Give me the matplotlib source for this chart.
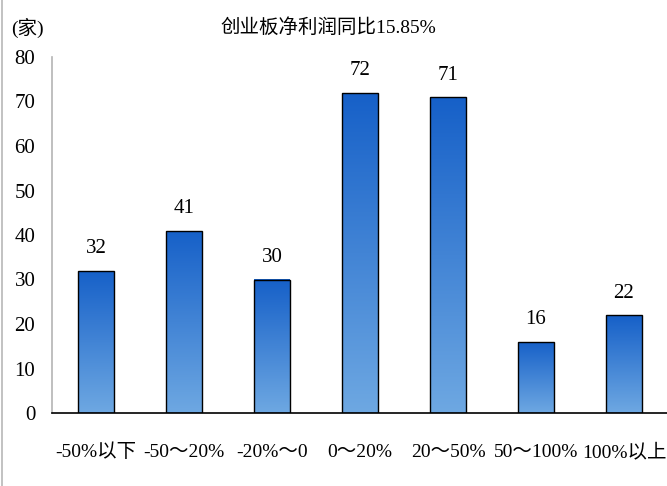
import numpy as np
from matplotlib import pyplot as plt
from matplotlib.colors import LinearSegmentedColormap
from matplotlib.lines import Line2D

# data
categories = ["-50%以下", "-50～20%", "-20%～0", "0～20%", "20～50%", "50～100%", "100%以上"]
counts = [32, 41, 30, 72, 71, 16, 22]
y_ticks = [0, 10, 20, 30, 40, 50, 60, 70, 80]
title = "创业板净利润同比15.85%"
unit = "(家)"

plt.rcParams['font.family'] = ['Liberation Serif', 'Noto Sans CJK SC', 'DejaVu Sans']

fig = plt.figure(figsize=(6.67, 4.86), dpi=100)
ax = fig.add_axes([52 / 667, (486 - 413) / 486, 616 / 667, 356 / 486])

x = np.arange(len(categories))
bars = ax.bar(x, counts, width=0.4, facecolor='none', edgecolor='black',
              linewidth=1.0, zorder=3)

# vertical gradient: dark blue on top, light blue at the bottom
cmap = LinearSegmentedColormap.from_list("blues", ["#6ea8e2", "#1660c8"])
grad = np.linspace(0, 1, 256).reshape(-1, 1)
for b in bars:
    x0 = b.get_x()
    w = b.get_width()
    h = b.get_height()
    im = ax.imshow(grad, cmap=cmap, aspect='auto', origin='lower',
                   extent=[x0, x0 + w, 0, h], zorder=2)
    im.set_clip_path(b)

for xi, v in zip(x, counts):
    ax.annotate(str(v), (xi, v), xytext=(0, 9), textcoords='offset points',
                ha='center', va='bottom', fontsize=15)

ax.set_xlim(-0.5, 6.5)
ax.set_ylim(0, 80)
ax.set_yticks(y_ticks)
ax.set_xticks(x)
ax.set_xticklabels(categories, fontsize=14)
ax.tick_params(axis='y', length=0, pad=12, labelsize=15)
ax.tick_params(axis='x', length=0, pad=22)

for s in ['top', 'right']:
    ax.spines[s].set_visible(False)
ax.spines['left'].set_color('#b4b4b4')
ax.spines['left'].set_linewidth(1.2)
ax.spines['bottom'].set_color('black')
ax.spines['bottom'].set_linewidth(1.2)

fig.text(328 / 667, 1 - 28 / 486, title, ha='center', va='center', fontsize=14)
fig.text(27 / 667, 1 - 28 / 486, unit, ha='center', va='center', fontsize=14)

# thin frame line at the left edge
fig.add_artist(Line2D([2 / 667, 2 / 667], [0, 1], color='#b8b8b8', linewidth=1.2))

plt.savefig("out.png", dpi=100)
plt.close()
